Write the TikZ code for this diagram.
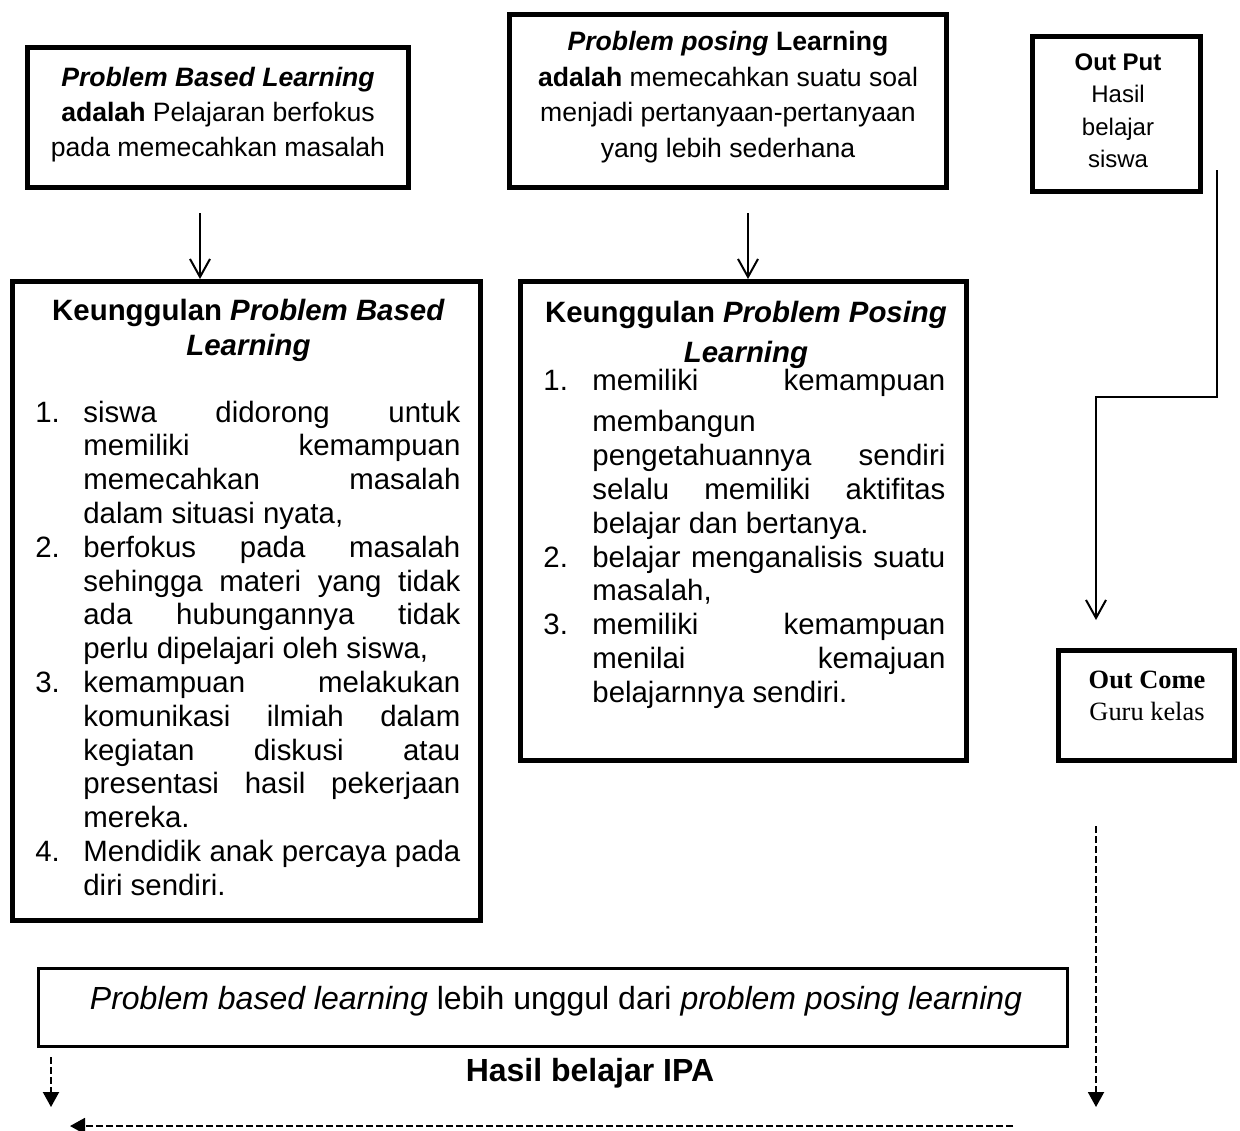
\documentclass[tikz,border=0pt]{standalone}
\usepackage{fontspec}
\setmainfont{Liberation Sans}[Ligatures=NoCommon]
\newfontfamily\timesf{Liberation Serif}
\usetikzlibrary{arrows.meta,calc}
\newlength{\numind}
\newcommand{\numitem}[2]{\noindent\hangindent=\numind\hangafter=1\makebox[\numind][l]{#1}#2\par}
\newcommand{\listsetup}{\parindent=0pt\parskip=0pt\hyphenpenalty=10000\exhyphenpenalty=10000\tolerance=10000\relax}
\begin{document}
\begin{tikzpicture}[x=0.5pt,y=-0.5pt,
  thickbox/.style={draw, line width=2.4pt, inner sep=0pt},
  thinbox/.style={draw, line width=1.3pt, inner sep=0pt},
  openarrow/.style={line width=1pt, -{Straight Barb[length=9pt,width=10pt]}},
  dasharrow/.style={line width=1pt, dash pattern=on 3.3pt off 1.7pt, -{Triangle[length=7.5pt,width=8pt]}},
  plainline/.style={line width=1pt},
  txt/.style={inner sep=0pt, align=center},
]
\useasboundingbox (0,0) rectangle (1240,1130);

% boxes
\node[thickbox, minimum width=190.6pt, minimum height=70.1pt] (A) at (218,117.5) {};
\node[thickbox, minimum width=218.6pt, minimum height=86.6pt] (B) at (728,101) {};
\node[thickbox, minimum width=84.1pt, minimum height=77.6pt] (C) at (1116.5,114) {};
\node[thickbox, minimum width=234.1pt, minimum height=319.6pt] (D) at (246.5,601) {};
\node[thickbox, minimum width=223.1pt, minimum height=239.6pt] (E) at (743.5,521) {};
\node[thickbox, minimum width=88.1pt, minimum height=55.1pt] (F) at (1146.5,705.5) {};
\node[thinbox, minimum width=514.7pt, minimum height=39.2pt] (G) at (553,1007.5) {};

% texts
\node[txt, font=\fontsize{13.3}{17.5}\selectfont] (Atxt) at (218,115)
  {\textbf{\textit{Problem Based Learning}}\\\textbf{adalah} Pelajaran berfokus\\pada memecahkan masalah};
\node[txt, font=\fontsize{13.3}{17.75}\selectfont] (Btxt) at (728,97)
  {\textbf{\textit{Problem posing} Learning}\\\textbf{adalah} memecahkan suatu soal\\menjadi pertanyaan-pertanyaan\\yang lebih sederhana};
\node[txt, font=\fontsize{12}{16.25}\selectfont] (Ctxt) at (1118,110.5)
  {\textbf{Out Put}\\Hasil\\belajar\\siswa};
\node[txt, font=\timesf\fontsize{13.2}{16}\selectfont] (Ftxt) at (1147,696)
  {\textbf{Out Come}\\Guru kelas};
\node[txt, font=\fontsize{16}{19}\selectfont] (Gtxt) at (556,1001)
  {\textit{Problem based learning} lebih unggul dari \textit{problem posing learning}};
\node[txt, font=\bfseries\fontsize{16}{19}\selectfont] (H) at (590,1073) {Hasil belajar IPA};

\node[txt, font=\bfseries\fontsize{14.7}{17.5}\selectfont] (Dtitle) at (248.5,330)
  {Keunggulan \textit{Problem Based}\\\textit{Learning}};
\node[txt, font=\bfseries\fontsize{14.7}{20}\selectfont] (Etitle) at (746,334.5)
  {Keunggulan \textit{Problem Posing}\\\textit{Learning}};

\node[inner sep=0pt, anchor=base west, text width=212.5pt, align=justify,
      font=\fontsize{14.7}{16.9}\selectfont] (Dlist) at (35,422)
  {\listsetup\setlength{\numind}{24pt}%
   \numitem{1.}{siswa didorong untuk\linebreak memiliki kemampuan\linebreak memecahkan masalah\linebreak dalam situasi nyata,}%
   \numitem{2.}{berfokus pada masalah\linebreak sehingga materi yang tidak\linebreak ada hubungannya tidak\linebreak perlu dipelajari oleh siswa,}%
   \numitem{3.}{kemampuan melakukan\linebreak komunikasi ilmiah dalam\linebreak kegiatan diskusi atau\linebreak presentasi hasil pekerjaan\linebreak mereka.}%
   \numitem{4.}{Mendidik anak percaya pada\linebreak diri sendiri.}};

\node[inner sep=0pt, anchor=base west, text width=201pt, align=justify,
      font=\fontsize{14.7}{16.9}\selectfont] (Elist) at (543,390)
  {\listsetup\setlength{\numind}{24.5pt}%
   \numitem{1.}{memiliki kemampuan\vadjust{\vskip4pt}\linebreak membangun\linebreak pengetahuannya sendiri\linebreak selalu memiliki aktifitas\linebreak belajar dan bertanya.}%
   \numitem{2.}{belajar menganalisis suatu\linebreak masalah,}%
   \numitem{3.}{memiliki kemampuan\linebreak menilai kemajuan\linebreak belajarnnya sendiri.}};

% connectors
\coordinate (a1) at (200,213);
\draw[openarrow] (a1) -- (a1 |- D.north);
\coordinate (b1) at (748,213);
\draw[openarrow] (b1) -- (b1 |- E.north);

\coordinate (c1) at (1217,170);
\coordinate (c2) at (1217,397);
\coordinate (c3) at (1096,397);
\coordinate (c4) at (1096,620);
\draw[openarrow] (c1) -- (c2) -- (c3) -- (c4);

\coordinate (f1) at (1096,826);
\coordinate (f2) at (1096,1107);
\draw[dasharrow] (f1) -- (f2);

\coordinate (g1) at (51,1057);
\coordinate (g2) at (51,1107);
\draw[dasharrow] (g1) -- (g2);

\coordinate (h1) at (1013,1126);
\coordinate (h2) at (70,1126);
\draw[dasharrow] (h1) -- (h2);
\end{tikzpicture}
\end{document}
